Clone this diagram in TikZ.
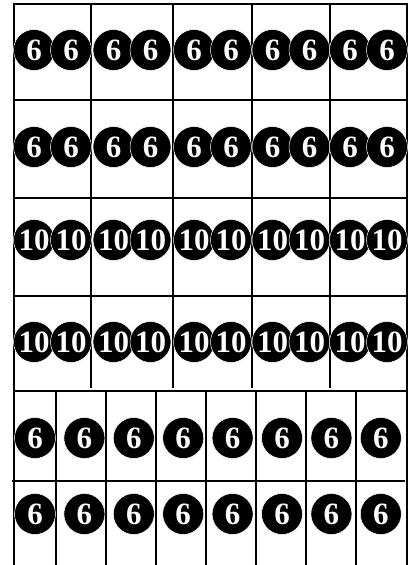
\documentclass[tikz,border=0pt]{standalone}
\usepackage{fontspec}
\setmainfont{Liberation Serif}

\tikzset{
  ficha/.style={circle, fill=black, draw=white, line width=0.5pt,
    minimum size=41pt, inner sep=0pt, text=white,
    font=\bfseries\fontsize{31}{31}\selectfont},
  grade/.style={line width=1.7pt}
}

\begin{document}
\begin{tikzpicture}[x=1pt, y=-1pt]
    \useasboundingbox (0,0) rectangle (412,565);

    % Grade superior
    \draw[grade] (14,565) -- (14,4) -- (407,4) -- (407,565);
    \foreach \y in {100, 198, 296}
        \draw[grade] (14,\y) -- (407,\y);
    \foreach \x in {91, 173, 252, 330}
        \draw[grade] (\x,4) -- (\x,388);

    % Grade inferior
    \draw[grade] (14,391) -- (407,391);
    \draw[grade] (12,481) -- (405,481);
    \foreach \x in {56, 106, 156, 206, 256, 306, 356}
        \draw[grade] (\x,391) -- (\x,565);

    % Fichas em pares
    \foreach \xc [count=\i] in {52.5, 132, 212.5, 291, 368.5} {
        \foreach \yc/\v/\r in {50/6/a, 147/6/b, 240/10/c, 342/10/d} {
            \node[ficha] (\r-\i-1) at (\xc-18.5,\yc) {\v};
            \node[ficha] (\r-\i-2) at (\xc+18.5,\yc) {\v};
        }
    }

    % Fichas soltas
    \foreach \i in {0,...,7} {
        \node[ficha] (e-\i) at (35+49.4*\i, 438) {6};
        \node[ficha] (f-\i) at (35+49.4*\i, 514) {6};
    }
\end{tikzpicture}
\end{document}
